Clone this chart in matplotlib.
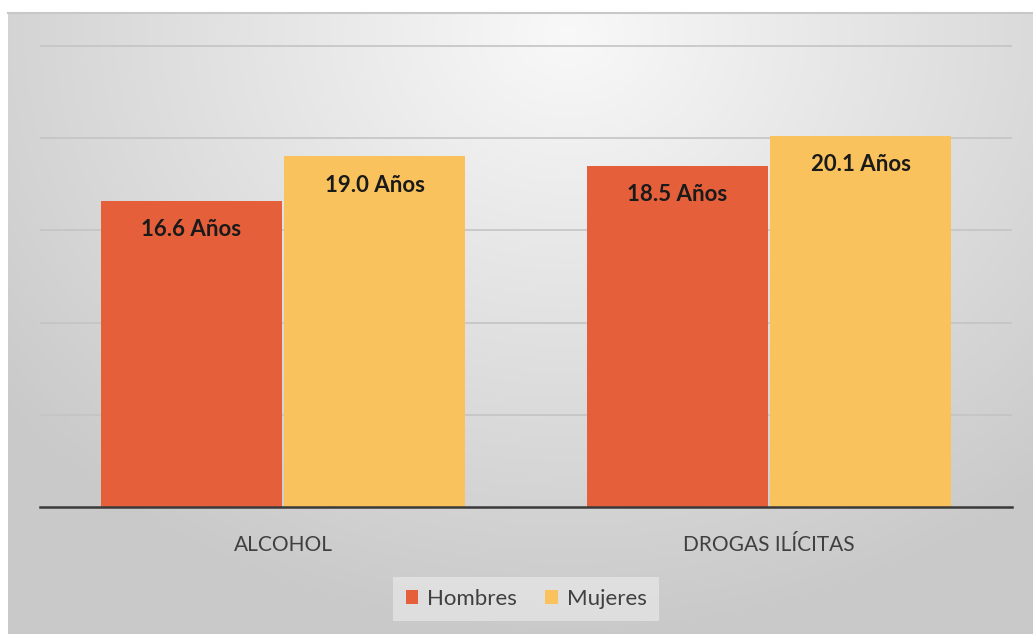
import numpy as np
import matplotlib
matplotlib.use("Agg")
import matplotlib.pyplot as plt
from matplotlib.patches import Patch

categories = ["ALCOHOL", "DROGAS ILÍCITAS"]
series_names = ["Hombres", "Mujeres"]
hombres = [16.6, 18.5]
mujeres = [19.0, 20.1]
colors = ["#E55F3B", "#F9C25D"]

W, H = 1033, 634
fig = plt.figure(figsize=(W / 100, H / 100), dpi=100)
fig.patch.set_facecolor("white")

# background gradient panel
bg = fig.add_axes([8 / W, 0, 1 - 8 / W, 1 - 13 / H])
yy, xx = np.mgrid[0:621, 0:1025]
cx, cy = 560, 20
d = np.sqrt(((xx - cx) / 1.2) ** 2 + (yy - cy) ** 2)
t = np.clip(d / 600, 0, 1)
top = np.array([0.975, 0.975, 0.975])
bot = np.array([0.79, 0.79, 0.79])
img = top[None, None, :] * (1 - t[..., None]) + bot[None, None, :] * t[..., None]
bg.imshow(img, aspect="auto", extent=[0, 1, 0, 1], origin="upper")
bg.set_axis_off()
bg.plot([0, 1], [1, 1], color="#c8c8c8", lw=1.5, transform=bg.transAxes, clip_on=False)

# main axes
ymax = 25.5
ppu = 18.45
ax_h = ymax * ppu
ax = fig.add_axes([40 / W, 1 - 507 / H, 972 / W, ax_h / H])
ax.patch.set_alpha(0)
x = np.arange(len(categories))
bw = 0.372
off = 0.1885
ax.bar(x - off, hombres, width=bw, color=colors[0], zorder=3)
ax.bar(x + off, mujeres, width=bw, color=colors[1], zorder=3)
ax.set_xlim(-0.5, 1.5)
ax.set_ylim(0, ymax)
ax.set_yticks([5, 10, 15, 20, 25])
ax.yaxis.grid(True, color="#c4c4c4", lw=1.2, zorder=0)
ax.set_axisbelow(True)
ax.tick_params(axis="y", length=0, labelleft=False)
ax.tick_params(axis="x", length=0, pad=20)
ax.set_xticks(x)
ax.set_xticklabels(categories, fontfamily="Lato", fontsize=15, color="#404040")
for s in ["top", "left", "right"]:
    ax.spines[s].set_visible(False)
ax.spines["bottom"].set_color("#3a3a3a")
ax.spines["bottom"].set_linewidth(1.8)
ax.spines["bottom"].set_zorder(4)

for xs, vals in [(x - off, hombres), (x + off, mujeres)]:
    for xi, v in zip(xs, vals):
        ax.text(xi, v - 1.55, f"{v:.1f} Años", ha="center", va="center",
                fontfamily="Lato", fontweight="bold", fontsize=16, color="#1a1a1a", zorder=5)

handles = [Patch(facecolor=c, edgecolor="none") for c in colors]
leg = fig.legend(handles, series_names, loc="center", bbox_to_anchor=(526 / W, 1 - 599 / H),
                 ncol=2, frameon=True, fancybox=False, prop={"family": "Lato", "size": 16},
                 handlelength=0.55, handleheight=0.55, handletextpad=0.4, columnspacing=1.3,
                 borderpad=0.55)
leg.get_frame().set_facecolor("#e4e4e4")
leg.get_frame().set_edgecolor("none")
for txt in leg.get_texts():
    txt.set_color("#404040")

fig.savefig("out.png", dpi=100)
